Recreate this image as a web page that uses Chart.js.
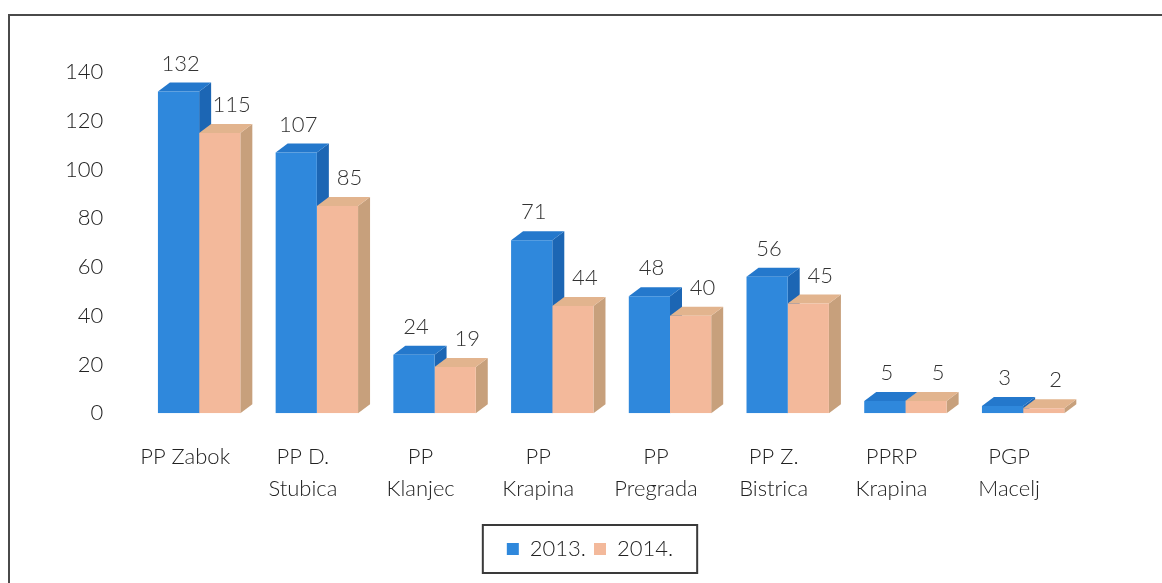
<!DOCTYPE html>
<html>
<head>
<meta charset="utf-8">
<script src="https://cdn.jsdelivr.net/npm/chart.js@4.4.1/dist/chart.umd.min.js"></script>
<style>
    html, body { margin: 0; padding: 0; background: #fff; }
    #wrap { position: relative; width: 1162px; height: 583px; overflow: hidden; }
    #frame {
        position: absolute; left: 8px; top: 14px; width: 1170px; height: 600px;
        border: 2px solid #4a4a4a; box-sizing: border-box;
    }
    #chart { position: absolute; left: 0; top: 0; }
</style>
</head>
<body>
<div id="wrap">
    <div id="frame"></div>
    <canvas id="chart" width="1162" height="583"></canvas>
</div>
<script>
// ===== DATA =====
const categories = [
    ['PP Zabok'], ['PP D.', 'Stubica'], ['PP', 'Klanjec'], ['PP', 'Krapina'],
    ['PP', 'Pregrada'], ['PP Z.', 'Bistrica'], ['PPRP', 'Krapina'], ['PGP', 'Macelj']
];
const seriesNames = ['2013.', '2014.'];
const values2013 = [132, 107, 24, 71, 48, 56, 5, 3];
const values2014 = [115, 85, 19, 44, 40, 45, 5, 2];
const yTicks = [0, 20, 40, 60, 80, 100, 120, 140];

const FONT = 'Lato';
const DEPTH_X = 12;
const DEPTH_Y = 9;
const LABEL_SHIFT = [2, 12];   // value label x nudge per series
const LEGEND_SHIFT_X = 31;
const LEGEND_SHIFT_Y = 5;

// colours per series: front, top, side
const shades = [
    { front: '#2f88dc', top: '#2478cc', side: '#1c66b4' },
    { front: '#f3b99b', top: '#e2b48e', side: '#c7a07c' }
];

// fake 3d: top + side faces drawn behind the bar fronts
const depthPlugin = {
    id: 'depth3d',
    afterLayout(chart) {
        // legend sits a bit right of centre in the original
        const lg = chart.legend;
        lg.left += LEGEND_SHIFT_X;
        lg.right += LEGEND_SHIFT_X;
        lg.top += LEGEND_SHIFT_Y;
        lg.bottom += LEGEND_SHIFT_Y;
    },
    beforeDatasetsDraw(chart) {
        const ctx = chart.ctx;
        const n = chart.data.labels.length;
        for (let i = 0; i < n; i++) {
            chart.data.datasets.forEach((ds, d) => {
                const bar = chart.getDatasetMeta(d).data[i];
                const half = bar.width / 2;
                const l = bar.x - half, r = bar.x + half;
                const t = bar.y, b = bar.base;
                ctx.save();
                // side
                ctx.fillStyle = shades[d].side;
                ctx.beginPath();
                ctx.moveTo(r, t);
                ctx.lineTo(r + DEPTH_X, t - DEPTH_Y);
                ctx.lineTo(r + DEPTH_X, b - DEPTH_Y);
                ctx.lineTo(r, b);
                ctx.closePath();
                ctx.fill();
                // top
                ctx.fillStyle = shades[d].top;
                ctx.beginPath();
                ctx.moveTo(l, t);
                ctx.lineTo(l + DEPTH_X, t - DEPTH_Y);
                ctx.lineTo(r + DEPTH_X, t - DEPTH_Y);
                ctx.lineTo(r, t);
                ctx.closePath();
                ctx.fill();
                ctx.restore();
            });
        }
    },
    afterDatasetsDraw(chart) {
        const ctx = chart.ctx;
        ctx.save();
        ctx.font = '300 22px "' + FONT + '"';
        ctx.fillStyle = '#333';
        ctx.textAlign = 'center';
        ctx.textBaseline = 'middle';
        chart.data.datasets.forEach((ds, d) => {
            chart.getDatasetMeta(d).data.forEach((bar, i) => {
                ctx.fillText(String(ds.data[i]), bar.x + LABEL_SHIFT[d], bar.y - 28);
            });
        });
        ctx.restore();
    },
    afterDraw(chart) {
        // box round the legend
        const boxes = chart.legend.legendHitBoxes;
        if (!boxes || !boxes.length) return;
        const first = boxes[0], last = boxes[boxes.length - 1];
        const cy = first.top + first.height / 2;
        const ctx = chart.ctx;
        ctx.save();
        ctx.strokeStyle = '#3a3a3a';
        ctx.lineWidth = 2;
        ctx.strokeRect(first.left - 24, cy - 24, last.left + last.width - first.left + 48, 48);
        ctx.restore();
    }
};

new Chart(document.getElementById('chart'), {
    type: 'bar',
    data: {
        labels: categories,
        datasets: [
            {
                label: seriesNames[0],
                data: values2013,
                backgroundColor: shades[0].front,
                barPercentage: 1.0,
                categoryPercentage: 0.7
            },
            {
                label: seriesNames[1],
                data: values2014,
                backgroundColor: shades[1].front,
                barPercentage: 1.0,
                categoryPercentage: 0.7
            }
        ]
    },
    options: {
        responsive: false,
        animation: false,
        layout: { padding: { left: 36, right: 80, top: 72, bottom: 18 } },
        plugins: {
            legend: {
                position: 'bottom',
                labels: {
                    color: '#222',
                    font: { family: FONT, size: 22, weight: '300' },
                    boxWidth: 12,
                    boxHeight: 12,
                    padding: 8
                }
            },
            tooltip: { enabled: false }
        },
        scales: {
            x: {
                grid: { display: false },
                border: { display: false },
                ticks: {
                    color: '#222',
                    font: { family: FONT, size: 22, weight: '300', lineHeight: 1.45 },
                    maxRotation: 0,
                    autoSkip: false,
                    labelOffset: -14,
                    padding: 20
                }
            },
            y: {
                min: 0,
                max: 140,
                afterBuildTicks(axis) {
                    axis.ticks = yTicks.map(v => ({ value: v }));
                },
                grid: { display: false },
                border: { display: false },
                ticks: {
                    color: '#222',
                    font: { family: FONT, size: 22, weight: '300' },
                    padding: 29
                }
            }
        }
    },
    plugins: [depthPlugin]
});
</script>
</body>
</html>
